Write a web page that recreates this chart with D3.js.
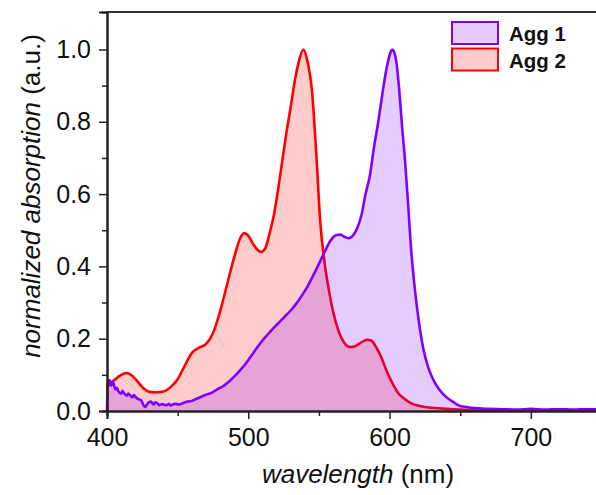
<!DOCTYPE html>
<html><head><meta charset="utf-8">
<script src="https://cdn.jsdelivr.net/npm/d3@7"></script>
<style>body{margin:0;background:#fff;} svg{display:block;font-family:"Liberation Sans",Arial,sans-serif;}</style>
</head><body>
<svg id="chart" width="596" height="495"></svg>
<script>
const seriesNames = ["Agg 1", "Agg 2"];
const lineColors = ["#7f00ff", "#ff0000"];

const agg2Wavelength = [400,405,410,414,418,422,426,430,435,440,445,450,455,460,465,470,475,480,485,490,494,497,500,503,506,509,512,515,518,521,524,527,530,533,536,539,542,545,548,551,554,557,560,564,568,572,576,580,584,587,590,594,598,602,606,610,615,620,625,630,640,650,660,680,700,750];
const agg2Values = [0.066,0.085,0.1,0.105,0.097,0.08,0.062,0.053,0.052,0.054,0.066,0.088,0.125,0.16,0.175,0.185,0.215,0.275,0.35,0.425,0.475,0.492,0.485,0.465,0.448,0.44,0.45,0.49,0.54,0.61,0.69,0.77,0.84,0.915,0.97,1.0,0.965,0.89,0.72,0.52,0.41,0.335,0.275,0.22,0.188,0.177,0.18,0.19,0.197,0.195,0.18,0.15,0.11,0.077,0.05,0.035,0.022,0.015,0.011,0.009,0.006,0.004,0.003,0.002,0.002,0.001];

const agg1Wavelength = [400,400.5,402,403,404,406,407,408,410,411,412,414,415,416,418,419,420,422,424,426,427,429,431,433,434,436,437,439,442,444,445,448,451,454,457,460,463,466,470,474,478,482,486,490,494,498,502,506,510,514,518,522,526,530,534,538,542,546,550,554,558,562,565,568,571,574,577,580,583,586,589,592,595,598,601,602,603,605,607,609,611,613,615,617,619,621,624,627,630,635,640,645,650,655,660,670,680,690,700,710,720,730,740,750];
const agg1Values = [0,0.075,0.085,0.07,0.082,0.06,0.064,0.055,0.048,0.056,0.05,0.042,0.048,0.045,0.038,0.044,0.04,0.033,0.03,0.015,0.011,0.022,0.026,0.018,0.024,0.02,0.016,0.019,0.016,0.02,0.015,0.02,0.018,0.022,0.026,0.028,0.033,0.038,0.045,0.05,0.06,0.068,0.08,0.095,0.112,0.13,0.152,0.174,0.195,0.213,0.23,0.246,0.262,0.278,0.297,0.32,0.345,0.375,0.407,0.44,0.47,0.486,0.488,0.482,0.478,0.485,0.505,0.54,0.6,0.65,0.73,0.8,0.88,0.95,0.995,1.0,0.995,0.96,0.88,0.78,0.69,0.58,0.46,0.37,0.3,0.24,0.17,0.125,0.094,0.06,0.039,0.025,0.014,0.011,0.008,0.006,0.005,0.004,0.006,0.004,0.005,0.004,0.005,0.004];

const xMajorTicks = [400,500,600,700];
const xMinorTicks = [450,550,650];
const yMajorTicks = [0,0.2,0.4,0.6,0.8,1.0];
const yMinorTicks = [0.1,0.3,0.5,0.7,0.9];

const svg = d3.select("#chart");
const pLeft = 107, pRight = 601.5, pTop = 12, pBottom = 411;
const x = d3.scaleLinear().domain([400,750]).range([pLeft,pRight]);
const y = d3.scaleLinear().domain([0,1.1037]).range([pBottom,pTop]);

const agg1 = agg1Wavelength.map((w,i)=>({w, v: agg1Values[i]}));
const agg2 = agg2Wavelength.map((w,i)=>({w, v: agg2Values[i]}));

const area = d3.area().x(d=>x(d.w)).y0(y(0)).y1(d=>y(d.v)).curve(d3.curveMonotoneX);
const line = d3.line().x(d=>x(d.w)).y(d=>y(d.v)).curve(d3.curveMonotoneX);

const g = svg.append("g");
g.append("path").datum(agg2).attr("d", area).attr("fill", lineColors[1]).attr("fill-opacity", 0.2);
g.append("path").datum(agg2).attr("d", line).attr("fill","none").attr("stroke", lineColors[1]).attr("stroke-width", 2.6).attr("stroke-linejoin","round");
g.append("path").datum(agg1).attr("d", area).attr("fill", lineColors[0]).attr("fill-opacity", 0.2);
g.append("path").datum(agg1).attr("d", line).attr("fill","none").attr("stroke", lineColors[0]).attr("stroke-width", 2.6).attr("stroke-linejoin","round");

svg.append("line").attr("x1",pLeft).attr("x2",pRight).attr("y1",pTop).attr("y2",pTop).attr("stroke","#333").attr("stroke-width",2.2);

const xAxis = d3.axisBottom(x).tickValues(xMajorTicks).tickSize(8).tickPadding(9).tickFormat(d3.format("d"));
const xMinor = d3.axisBottom(x).tickValues(xMinorTicks).tickSize(5).tickFormat("");
const yAxis = d3.axisLeft(y).tickValues(yMajorTicks).tickSize(8).tickPadding(8).tickFormat(d3.format(".1f"));
const yMinor = d3.axisLeft(y).tickValues(yMinorTicks).tickSize(5).tickFormat("");

function style(sel){
  sel.select(".domain").attr("stroke","#222").attr("stroke-width",2);
  sel.selectAll(".tick line").attr("stroke","#222").attr("stroke-width",1.5);
  sel.selectAll(".tick text").attr("font-size",25).attr("fill","#111").attr("font-family","Liberation Sans, Arial, sans-serif");
}
svg.append("g").attr("transform",`translate(0,${pBottom})`).call(xMinor).call(style);
svg.append("g").attr("transform",`translate(0,${pBottom})`).call(xAxis).call(style);
svg.append("g").attr("transform",`translate(${pLeft},0)`).call(yMinor).call(style);
svg.append("g").attr("transform",`translate(${pLeft},0)`).call(yAxis).call(style);

const xt = svg.append("text").attr("x",358).attr("y",483).attr("text-anchor","middle").attr("font-size",26).attr("fill","#111");
xt.append("tspan").attr("font-style","italic").text("wavelength");
xt.append("tspan").text(" (nm)");
const yt = svg.append("text").attr("transform",`translate(40,196) rotate(-90)`).attr("text-anchor","middle").attr("font-size",26).attr("fill","#111");
yt.append("tspan").attr("font-style","italic").text("normalized absorption");
yt.append("tspan").text(" (a.u.)");

const legend = svg.append("g");
seriesNames.forEach((name,i)=>{
  const yy = 22 + i*26.5;
  legend.append("rect").attr("x",452).attr("y",yy).attr("width",46).attr("height",22)
    .attr("fill",lineColors[i]).attr("fill-opacity",0.2).attr("stroke",lineColors[i]).attr("stroke-width",2);
  legend.append("text").attr("x",509).attr("y",yy+19).attr("font-size",20.5).attr("font-weight","bold").attr("fill","#111").text(name);
});
</script>
</body></html>
